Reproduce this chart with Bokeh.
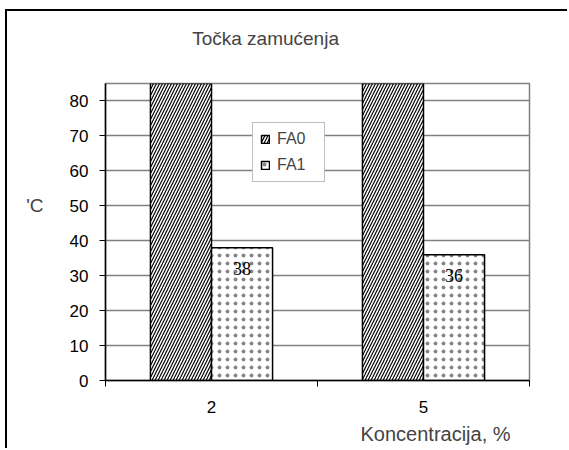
from bokeh.plotting import figure
from bokeh.models import (ColumnDataSource, FixedTicker, LabelSet, Legend,
                          LegendItem, Range1d, LinearAxis, Title)
from bokeh.transform import dodge
from bokeh.embed import file_html
from bokeh.resources import INLINE

# ---- data ----
categories = ["2", "5"]
cat_pos = [1, 2]
fa0 = [85, 85]
fa1 = [38, 36]
series_names = ["FA0", "FA1"]
y_ticks = [0, 10, 20, 30, 40, 50, 60, 70, 80]
title_text = "Točka zamućenja"
y_title = "'C"
x_title = "Koncentracija, %"

FONT = "Liberation Sans"

src = ColumnDataSource(dict(x=cat_pos, fa0=fa0, fa1=fa1, lab=[str(v) for v in fa1]))

p = figure(width=562, height=439, output_backend="svg", toolbar_location=None,
           x_range=Range1d(0.5, 2.5), y_range=Range1d(0, 85),
           min_border_left=98, min_border_right=40, min_border_top=72, min_border_bottom=70)
p.styles = {"margin-left": "5px", "margin-top": "9px",
            "border-left": "2px solid black", "border-top": "2px solid black",
            "border-right": "0px none white", "border-bottom": "0px none white",
            "outline": "none", "box-shadow": "none"}
p.title.visible = False

p.background_fill_color = "white"
p.border_fill_color = "white"
p.outline_line_color = "#808080"
p.outline_line_width = 1.5

# grid
p.xgrid.grid_line_color = None
p.ygrid.grid_line_color = "#808080"
p.ygrid.grid_line_width = 1.5
p.ygrid.ticker = FixedTicker(ticks=y_ticks)

# axes
p.xaxis.ticker = FixedTicker(ticks=cat_pos, minor_ticks=[0.5, 1.5, 2.5])
p.xaxis.major_label_overrides = {pos: c for pos, c in zip(cat_pos, categories)}
p.xaxis.major_tick_out = 0
p.xaxis.major_tick_in = 0
p.xaxis.minor_tick_out = 6
p.xaxis.minor_tick_in = 0
p.xaxis.minor_tick_line_color = "black"
p.xaxis.major_label_standoff = 14

p.yaxis.ticker = FixedTicker(ticks=y_ticks)
p.yaxis.major_tick_out = 6
p.yaxis.major_tick_in = 0
p.yaxis.minor_tick_line_color = None
p.yaxis.major_label_standoff = 11

for ax in (p.xaxis, p.yaxis):
    ax.axis_line_color = "black"
    ax.axis_line_width = 1.5
    ax.major_tick_line_color = "black"
    ax.major_tick_line_width = 1.2
    ax.major_label_text_font = FONT
    ax.major_label_text_font_size = "17px"
    ax.major_label_text_color = "black"

# chart title as a label on an invisible top axis (placed over the whole chart area)
title_pos = 1.255
title_axis = LinearAxis(ticker=FixedTicker(ticks=[title_pos]),
                        major_label_overrides={title_pos: title_text},
                        axis_line_color=None, major_tick_line_color=None,
                        minor_tick_line_color=None, major_label_standoff=29,
                        major_label_text_font=FONT, major_label_text_font_size="19px")
p.add_layout(title_axis, "above")

# y-axis title as a horizontal label (extra axis, no line/ticks)
ytitle_axis = LinearAxis(ticker=FixedTicker(ticks=[50]), major_label_overrides={50: y_title},
                         axis_line_color=None, major_tick_line_color=None,
                         minor_tick_line_color=None, major_label_standoff=17,
                         major_label_text_font=FONT, major_label_text_font_size="19px")
p.add_layout(ytitle_axis, "left")

# x-axis title
p.add_layout(Title(text=x_title, align="left", offset=255, standoff=11,
                   text_font=FONT, text_font_size="20px", text_font_style="normal"), "below")

# bars
r0 = p.vbar(x=dodge("x", -0.144, range=p.x_range), top="fa0", width=0.288, source=src,
            fill_color="white", line_color="black", line_width=1.5,
            hatch_pattern="/", hatch_color="black", hatch_scale=6, hatch_weight=1.2)
r1 = p.vbar(x=dodge("x", 0.144, range=p.x_range), top="fa1", width=0.288, source=src,
            fill_color="white", line_color="black", line_width=1.5,
            hatch_pattern=".", hatch_color="#888888", hatch_scale=8, hatch_weight=0.7)

labels = LabelSet(x=dodge("x", 0.144, range=p.x_range), y="fa1", text="lab", source=src,
                  y_offset=-21, text_align="center", text_baseline="middle",
                  text_font=FONT, text_font_size="18px", text_color="black")
p.add_layout(labels)

legend = Legend(items=[LegendItem(label=series_names[0], renderers=[r0]),
                       LegendItem(label=series_names[1], renderers=[r1])],
                location=(147, 198), orientation="vertical",
                glyph_width=10, glyph_height=10, label_height=17, label_width=40,
                spacing=8, padding=7, margin=0, label_standoff=7,
                label_text_font=FONT, label_text_font_size="16px",
                border_line_color="#808080", border_line_width=1.5,
                background_fill_color="white", background_fill_alpha=1)
p.add_layout(legend, "center")

open("out.html", "w").write(file_html(p, INLINE))
